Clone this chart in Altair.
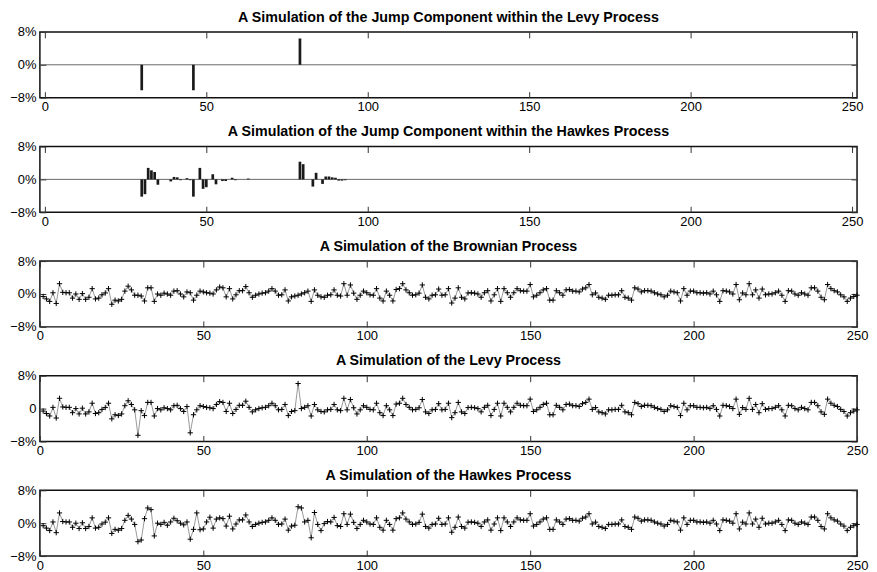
import altair as alt
import pandas as pd

# ---------------- data (values in percent) ----------------
steps = list(range(1, 251))

brownian = [
    -0.6, -1.2, -1.8, 0.3, -2.3, 2.5, 0.4, 0.3, 0.3, -1.0,
    0.0, -1.3, 0.1, -1.3, -0.8, 1.3, -1.2, -1.0, -0.2, 0.25,
    1.3, -2.5, -1.5, -1.7, -1.3, 0.7, 1.9, 1.0, -0.3, -0.3,
    -0.5, -1.7, 1.5, 1.5, -1.8, 0.0, -0.3, 0.2, 0.0, -0.3,
    0.7, 0.8, 0.0, -0.7, 0.5, 0.3, -1.5, -0.3, 0.7, 0.5,
    0.3, 0.2, 0.0, 1.0, 1.7, 1.5, -0.7, 1.3, -1.2, -0.2,
    0.8, 0.8, 1.8, 0.3, -0.8, -0.3, 0.0, 0.2, 0.3, 0.7,
    1.3, 0.7, -0.3, -0.2, 1.0, -1.7, -0.7, -0.5, -0.3, 0.0,
    0.3, 0.7, -1.8, 1.0, -0.3, -0.7, -0.8, -0.3, -0.2, 1.0,
    -0.3, -0.5, 2.5, -0.3, 2.2, 0.2, -1.3, -0.3, 0.7, 0.3,
    -0.2, -0.3, 1.3, -1.0, -1.7, 0.7, -0.3, -1.7, 1.1, 1.3,
    2.5, 1.0, 0.3, -0.3, -0.2, 0.2, 2.2, -0.8, -1.2, -0.3,
    -0.2, 1.2, -0.3, -0.2, 1.3, -2.2, -1.0, 1.5, -0.8, -1.2,
    0.25, 0.3, 0.2, 0.0, -0.8, 0.3, 0.8, -1.7, -0.2, 1.3,
    -1.8, 1.3, 0.3, -0.8, 0.3, 1.3, 0.8, 0.7, 0.7, 2.3,
    -0.7, -0.3, 0.3, 1.0, 1.3, -1.5, -1.5, 0.8, 0.3, -0.3,
    1.0, 1.1, 0.7, 0.7, 0.5, 1.2, 1.5, 2.3, -0.2, 0.25,
    -0.8, -1.0, -1.3, -0.3, -0.3, -0.2, -0.2, 0.8, -0.8, -1.0,
    -1.5, 1.5, 1.2, 0.5, 0.8, 0.8, 0.7, 0.3, 0.0, -0.2,
    -0.7, -0.3, 0.7, 0.5, 0.3, -1.7, 1.3, -0.3, 0.7, 0.7,
    0.3, 0.3, 0.2, 0.3, 0.0, 0.7, -0.2, -1.8, 0.8, 0.7,
    0.5, 0.0, 2.3, -1.4, 0.25, -0.2, 2.5, -0.2, 1.0, -1.0,
    1.2, -0.2, 0.0, 0.0, 0.3, 0.7, -0.3, -1.8, 0.8, 0.7,
    0.0, -0.3, 0.3, 0.0, -0.3, 1.5, 1.5, 0.7, -0.8, -1.4,
    2.3, 1.3, 0.8, 0.5, -0.2, -0.7, -1.8, -1.0, -0.6, -0.3,
]

levy_jump_steps = [30, 46, 79]
levy_jump_values = [-6.2, -6.2, 6.4]

hawkes_jump_steps = [30, 31, 32, 33, 34, 35, 39, 40, 41, 42, 44, 45, 46, 48, 49, 50,
                     52, 53, 55, 56, 58, 59, 63, 79, 80, 83, 84, 86, 87, 88, 89, 90,
                     91, 92, 93]
hawkes_jump_values = [-4.2, -3.6, 2.8, 2.2, 1.8, -1.3, -0.5, 0.6, 0.5, -0.2, 0.3, -0.2, -4.2, 2.8, -2.3, -1.9,
                      1.25, -1.2, -0.4, -0.4, 0.4, -0.2, 0.2, 4.3, 3.7, -1.75, 1.6, -1.1, 0.7, 0.7, 0.5, 0.4,
                      -0.3, -0.3, -0.2]

titles = [
    "A Simulation of the Jump Component within the Levy Process",
    "A Simulation of the Jump Component within the Hawkes Process",
    "A Simulation of the Brownian Process",
    "A Simulation of the Levy Process",
    "A Simulation of the Hawkes Process",
]

x_ticks = [0, 50, 100, 150, 200, 250]
y_ticks = [-8, 0, 8]

# ---------------- derived tables ----------------
levy_map = dict(zip(levy_jump_steps, levy_jump_values))
hawkes_map = dict(zip(hawkes_jump_steps, hawkes_jump_values))
levy_process = [b + levy_map.get(s, 0.0) for s, b in zip(steps, brownian)]
hawkes_process = [b + hawkes_map.get(s, 0.0) for s, b in zip(steps, brownian)]

df_levy_jump = pd.DataFrame({"t": levy_jump_steps, "v": levy_jump_values})
df_hawkes_jump = pd.DataFrame({"t": hawkes_jump_steps, "v": hawkes_jump_values})
df_brown = pd.DataFrame({"t": steps, "v": brownian})
df_levy = pd.DataFrame({"t": steps, "v": levy_process})
df_hawkes = pd.DataFrame({"t": steps, "v": hawkes_process})
df_zero = pd.DataFrame({"v": [0]})

# ---------------- styling ----------------
FONT = "Liberation Sans"
W, H = 820, 66
TICK = 6
xscale = alt.Scale(domain=[0, 250], nice=False, zero=False)
yscale = alt.Scale(domain=[-8, 8], nice=False)

common_axis = dict(domain=False, grid=False, title=None, tickSize=TICK, offset=-TICK,
                   tickColor="#333333", tickWidth=1, labelFont=FONT, labelFontSize=13,
                   labelColor="black", labelFlush=False)


def x_axis_bottom():
    return alt.Axis(orient="bottom", values=x_ticks, labelPadding=3, **common_axis)


def x_axis_top():
    return alt.Axis(orient="top", values=x_ticks, labels=False, labelPadding=0, **common_axis)


def y_axis_left(expr):
    return alt.Axis(orient="left", values=y_ticks, labelPadding=4, labelExpr=expr, **common_axis)


def y_axis_right():
    return alt.Axis(orient="right", values=y_ticks, labels=False, labelPadding=0, **common_axis)


PCT = "format(datum.value, 'd') + '%'"
PCT_ZERO_PLAIN = "datum.value == 0 ? '0' : format(datum.value, 'd') + '%'"


def ghost(df):
    return alt.Chart(df).mark_point(opacity=0).encode(
        x=alt.X("t:Q", scale=xscale, axis=x_axis_top()),
        y=alt.Y("v:Q", scale=yscale, axis=y_axis_right()),
    )


def title(text):
    return alt.TitleParams(text, font=FONT, fontSize=14.3, fontWeight="bold", color="black",
                           anchor="middle", frame="group", offset=1)


def jump_panel(df, text):
    zero = alt.Chart(df_zero).mark_rule(color="#444444", strokeWidth=0.8).encode(
        y=alt.Y("v:Q", scale=yscale, axis=None)
    )
    bars = alt.Chart(df).mark_bar(color="#1a1a1a", size=2.7).encode(
        x=alt.X("t:Q", scale=xscale, axis=x_axis_bottom()),
        y=alt.Y("v:Q", scale=yscale, axis=y_axis_left(PCT)),
        y2=alt.datum(0),
    )
    return alt.layer(zero, bars, ghost(df)).resolve_axis(x="independent", y="independent").properties(
        width=W, height=H, title=title(text))


def line_panel(df, text, expr):
    line = alt.Chart(df).mark_line(color="#808080", strokeWidth=0.8).encode(
        x=alt.X("t:Q", scale=xscale, axis=x_axis_bottom()),
        y=alt.Y("v:Q", scale=yscale, axis=y_axis_left(expr)),
    )
    pts = alt.Chart(df).mark_point(shape="M-1,0L1,0M0,-1L0,1", filled=False, size=28,
                                   color="black", strokeWidth=1, opacity=1).encode(
        x=alt.X("t:Q", scale=xscale, axis=None),
        y=alt.Y("v:Q", scale=yscale, axis=None),
    )
    return alt.layer(line, pts, ghost(df)).resolve_axis(x="independent", y="independent").properties(
        width=W, height=H, title=title(text))


panels = [
    jump_panel(df_levy_jump, titles[0]),
    jump_panel(df_hawkes_jump, titles[1]),
    line_panel(df_brown, titles[2], PCT),
    line_panel(df_levy, titles[3], PCT_ZERO_PLAIN),
    line_panel(df_hawkes, titles[4], PCT),
]

chart = alt.vconcat(*panels, spacing=9).properties(
    padding={"left": 0, "top": 0, "right": 0, "bottom": 0},
    background="white",
).configure_view(stroke="#111111", strokeWidth=1.5)

chart.save("out.html", embed_options={"renderer": "svg", "actions": False})
